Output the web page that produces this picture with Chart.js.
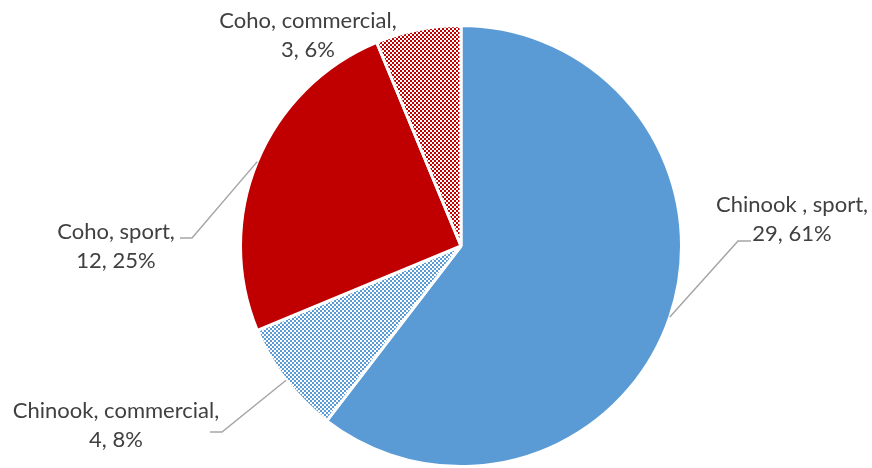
<!DOCTYPE html>
<html lang="en">
<head>
    <meta charset="UTF-8">
    <title>Salmon catch by fishery</title>
    <script src="https://cdn.jsdelivr.net/npm/chart.js"></script>
    <style>
        html, body {
            margin: 0;
            padding: 0;
            background: #fff;
        }
        .container {
            width: 872px;
            height: 468px;
        }
    </style>
</head>
<body>
    <div class="container">
        <canvas id="catchChart" width="872" height="468"></canvas>
    </div>
    <script>
        // catch counts and the percentages printed on the labels
        const fisheries = ['Chinook , sport', 'Chinook, commercial', 'Coho, sport', 'Coho, commercial'];
        const catchCounts = [29, 4, 12, 3];
        const catchPercents = [61, 8, 25, 6];

        const BLUE = '#5b9bd5';
        const RED = '#c00000';

        // where each label sits: text centre x, first baseline y, and leader elbow
        const labelLayout = [
            { x: 792, y: 212, elbow: [738, 241], tail: 751 },
            { x: 116, y: 418, elbow: [222, 432], tail: 210 },
            { x: 116, y: 239, elbow: [192, 238], tail: 180 },
            { x: 308, y: 28, elbow: null }
        ];

        function dotPattern(color) {
            const c = document.createElement('canvas');
            c.width = 4;
            c.height = 4;
            const g = c.getContext('2d');
            g.fillStyle = color;
            g.fillRect(0, 0, 4, 4);
            g.fillStyle = '#fff';
            g.fillRect(0, 0, 2, 2);
            g.fillRect(2, 2, 2, 2);
            return g.createPattern(c, 'repeat');
        }

        const sliceLabels = {
            id: 'sliceLabels',
            afterDatasetsDraw(chart) {
                const ctx = chart.ctx;
                const meta = chart.getDatasetMeta(0);
                ctx.save();
                ctx.font = '22px Lato, "Open Sans", sans-serif';
                ctx.fillStyle = '#404040';
                ctx.textAlign = 'center';
                ctx.textBaseline = 'alphabetic';
                meta.data.forEach((arc, i) => {
                    const pos = labelLayout[i];
                    ctx.fillText(fisheries[i] + ',', pos.x, pos.y);
                    ctx.fillText(catchCounts[i] + ', ' + catchPercents[i] + '%', pos.x, pos.y + 29);
                    if (!pos.elbow) return;
                    const mid = (arc.startAngle + arc.endAngle) / 2;
                    const ex = arc.x + Math.cos(mid) * arc.outerRadius;
                    const ey = arc.y + Math.sin(mid) * arc.outerRadius;
                    ctx.beginPath();
                    ctx.strokeStyle = '#a6a6a6';
                    ctx.lineWidth = 1.5;
                    ctx.moveTo(ex, ey);
                    ctx.lineTo(pos.elbow[0], pos.elbow[1]);
                    ctx.lineTo(pos.tail, pos.elbow[1]);
                    ctx.stroke();
                });
                ctx.restore();
            }
        };

        const ctx = document.getElementById('catchChart').getContext('2d');
        new Chart(ctx, {
            type: 'pie',
            data: {
                labels: fisheries,
                datasets: [{
                    data: catchCounts,
                    backgroundColor: [BLUE, dotPattern(BLUE), RED, dotPattern(RED)],
                    borderColor: '#fff',
                    borderWidth: 3
                }]
            },
            options: {
                responsive: false,
                animation: false,
                layout: {
                    padding: { left: 50, right: 0, top: 24, bottom: 0 }
                },
                plugins: {
                    legend: { display: false },
                    tooltip: { enabled: false }
                }
            },
            plugins: [sliceLabels]
        });
    </script>
</body>
</html>
